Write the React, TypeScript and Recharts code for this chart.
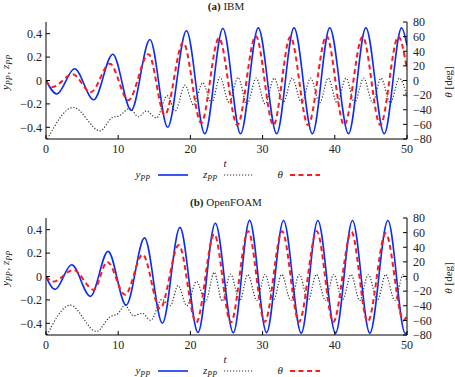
import { LineChart, Line, XAxis, YAxis } from "recharts";

// (a) IBM
const ibmYpp: [number, number][] = [
  [0, 0], [1.5, -0.115], [3.95, 0.1], [6.6, -0.165], [9.25, 0.225], [11.8, -0.255],
  [14.4, 0.35], [16.85, -0.4], [19.45, 0.425], [22.0, -0.455], [24.5, 0.445],
  [26.95, -0.455], [29.4, 0.45], [31.95, -0.455], [34.35, 0.45], [36.9, -0.455],
  [39.3, 0.45], [41.9, -0.455], [44.3, 0.45], [46.85, -0.455], [49.25, 0.45], [50, 0.3],
];
const ibmZpp: [number, number][] = [
  [0.2, -0.5], [3.8, -0.23], [7.5, -0.43], [9.1, -0.32], [10.2, -0.3], [11.6, -0.237],
  [12.8, -0.31], [13.9, -0.26], [15.3, -0.32], [16.8, -0.13], [17.9, -0.26], [19.25, -0.04],
  [20.45, -0.21], [21.7, -0.02], [22.95, -0.19], [24.1, 0.03], [25.35, -0.19], [26.6, 0.025],
  [27.85, -0.2], [29.1, 0.02], [30.35, -0.2], [31.6, 0.02], [32.85, -0.19], [34.1, 0.02],
  [35.4, -0.19], [36.65, 0.02], [37.9, -0.19], [39.1, 0.02], [40.3, -0.19], [41.55, 0.02],
  [42.75, -0.19], [44.0, 0.02], [45.25, -0.19], [46.4, 0.02], [47.7, -0.19], [48.95, 0.02],
  [50, -0.14],
];
const ibmTheta: [number, number][] = [
  [0, 0], [0.85, -9], [3.7, 8.5], [6.2, -16], [8.85, 23], [11.4, -27], [14.2, 36],
  [16.45, -47], [19.0, 52], [21.5, -58], [23.95, 58], [26.5, -61], [29.05, 61], [31.5, -61],
  [33.85, 60], [36.3, -61], [38.85, 61], [41.3, -61], [43.85, 60], [46.3, -61], [48.8, 60],
  [50, 15],
];

// (b) OpenFOAM
const ofYpp: [number, number][] = [
  [0, 0], [1.25, -0.11], [3.55, 0.1], [6.15, -0.17], [8.6, 0.215], [11.1, -0.245],
  [13.65, 0.33], [16.12, -0.4], [18.55, 0.42], [21.05, -0.478], [23.45, 0.455],
  [25.95, -0.48], [28.2, 0.48], [30.55, -0.48], [32.9, 0.478], [35.35, -0.485],
  [37.65, 0.478], [40.1, -0.485], [42.45, 0.478], [44.85, -0.485], [47.35, 0.478],
  [49.75, -0.485], [50, -0.48],
];
const ofZpp: [number, number][] = [
  [0.15, -0.5], [3.35, -0.245], [7.0, -0.47], [8.85, -0.345], [10.0, -0.315], [10.95, -0.245],
  [12.1, -0.335], [13.35, -0.315], [14.5, -0.375], [16.05, -0.195], [17.2, -0.25], [18.3, -0.077],
  [19.5, -0.25], [20.85, -0.042], [22.1, -0.215], [23.3, 0.035], [24.4, -0.21], [25.55, 0.02],
  [26.85, -0.205], [27.95, 0.017], [29.2, -0.205], [30.35, 0.017], [31.5, -0.205], [32.65, 0.017],
  [33.9, -0.205], [35.1, 0.017], [36.3, -0.205], [37.45, 0.017], [38.7, -0.205], [39.85, 0.017],
  [41.05, -0.205], [42.25, 0.017], [43.45, -0.205], [44.65, 0.017], [45.9, -0.205], [47.05, 0.017],
  [48.3, -0.205], [49.5, 0.017], [50, -0.04],
];
const ofTheta: [number, number][] = [
  [0, 0], [1.0, -7], [3.8, 9], [6.6, -18], [8.5, 20], [10.95, -25], [13.4, 30], [15.8, -44],
  [18.4, 43], [20.8, -63], [23.3, 58], [25.6, -63], [28.0, 62], [30.3, -62], [32.7, 62],
  [35.05, -62], [37.5, 62], [39.8, -62], [42.3, 61], [44.55, -62], [47.05, 59], [49.5, -60],
  [50, -54],
];

const tTicks = [0, 10, 20, 30, 40, 50];
const posTicks = [-0.4, -0.2, 0, 0.2, 0.4];
const thetaTicks = [-80, -60, -40, -20, 0, 20, 40, 60, 80];

const W = 455;
const PANEL_H = 196;
const FONT = "'Liberation Serif', 'DejaVu Serif', serif";
const BLUE = "#0a2cf5";
const RED = "#ff1a1a";
const DOTS = "#333";

const toRows = (pts: [number, number][]) => pts.map(([t, v]) => ({ t, v }));
const fmt = (v: number) => (v < 0 ? `\u2212${Math.abs(v)}` : `${v}`);

const tickStyle = { fill: "#222", fontSize: 12, fontFamily: FONT };

// italic symbol with "PP" subscript
function Sub({ base }: { base: string }) {
  return (
    <>
      <tspan fontStyle="italic">{base}</tspan>
      <tspan fontStyle="italic" fontSize={8} dy={2.5}>PP</tspan>
      <tspan dy={-2.5}>{"\u200a"}</tspan>
    </>
  );
}

function Panel({ tag, name, ypp, zpp, theta }: {
  tag: string; name: string;
  ypp: [number, number][]; zpp: [number, number][]; theta: [number, number][];
}) {
  return (
    <div style={{ position: "relative", width: W, height: PANEL_H }}>
      <LineChart width={W} height={PANEL_H} margin={{ top: 22, right: 0, bottom: 29, left: 0 }}>
        <XAxis
          xAxisId="b" dataKey="t" type="number" domain={[0, 50]} ticks={tTicks} interval={0}
          allowDataOverflow height={28} tickSize={-4} tickMargin={9}
          stroke="#000" tick={tickStyle}
        />
        <XAxis
          xAxisId="top" orientation="top" dataKey="t" type="number" domain={[0, 50]} interval={0}
          ticks={tTicks} allowDataOverflow height={0} tickSize={-4} tick={false} stroke="#000"
        />
        <YAxis
          yAxisId="l" type="number" domain={[-0.5, 0.5]} ticks={posTicks} interval={0}
          allowDataOverflow width={46} tickSize={-4} tickMargin={8} tickFormatter={fmt}
          stroke="#000" tick={tickStyle}
        />
        <YAxis
          yAxisId="r" orientation="right" type="number" domain={[-80, 80]} ticks={thetaTicks}
          interval={0} allowDataOverflow width={48} tickSize={-4} tickMargin={10}
          tickFormatter={fmt} stroke="#000" tick={tickStyle}
        />
        <Line
          data={toRows(ypp)} xAxisId="b" yAxisId="l" dataKey="v" type="monotone"
          stroke={BLUE} strokeWidth={1.6} dot={false} isAnimationActive={false}
        />
        <Line
          data={toRows(zpp)} xAxisId="b" yAxisId="l" dataKey="v" type="monotone"
          stroke={DOTS} strokeWidth={1.2} strokeDasharray="1.2 1.8" dot={false}
          isAnimationActive={false}
        />
        <Line
          data={toRows(theta)} xAxisId="b" yAxisId="r" dataKey="v" type="monotone"
          stroke={RED} strokeWidth={2} strokeDasharray="5 3.5" dot={false}
          isAnimationActive={false}
        />
      </LineChart>
      <svg
        width={W} height={PANEL_H}
        style={{ position: "absolute", left: 0, top: 0, pointerEvents: "none" }}
        fontFamily={FONT} fill="#222"
      >
        <text x={226} y={9.5} fontSize={11} textAnchor="middle">
          <tspan fontWeight="bold">{tag}</tspan> {name}
        </text>
        <text x={9} y={72} fontSize={11} textAnchor="middle" transform="rotate(-90 9 72)">
          <Sub base="y" />,{" "}<Sub base="z" />
        </text>
        <text x={452} y={82} fontSize={11} textAnchor="middle" transform="rotate(-90 452 82)">
          <tspan fontStyle="italic">θ</tspan> [deg]
        </text>
        <text x={225} y={167} fontSize={11} fontStyle="italic" textAnchor="middle">t</text>
        {/* legend */}
        <text x={151} y={178} fontSize={11} textAnchor="end"><Sub base="y" /></text>
        <line x1={158} x2={188} y1={175} y2={175} stroke={BLUE} strokeWidth={1.6} />
        <text x={218} y={178} fontSize={11} textAnchor="end"><Sub base="z" /></text>
        <line x1={224} x2={253} y1={175} y2={175} stroke={DOTS} strokeWidth={1.2} strokeDasharray="1.2 1.8" />
        <text x={283} y={178} fontSize={11} fontStyle="italic" textAnchor="end">θ</text>
        <line x1={290} x2={320} y1={175} y2={175} stroke={RED} strokeWidth={2} strokeDasharray="5 3.5" />
      </svg>
    </div>
  );
}

export default function App() {
  return (
    <div
      style={{
        position: "absolute", left: 0, top: 0, width: W, height: 377,
        overflow: "hidden", background: "#fff",
      }}
    >
      <Panel tag="(a)" name="IBM" ypp={ibmYpp} zpp={ibmZpp} theta={ibmTheta} />
      <Panel tag="(b)" name="OpenFOAM" ypp={ofYpp} zpp={ofZpp} theta={ofTheta} />
    </div>
  );
}
